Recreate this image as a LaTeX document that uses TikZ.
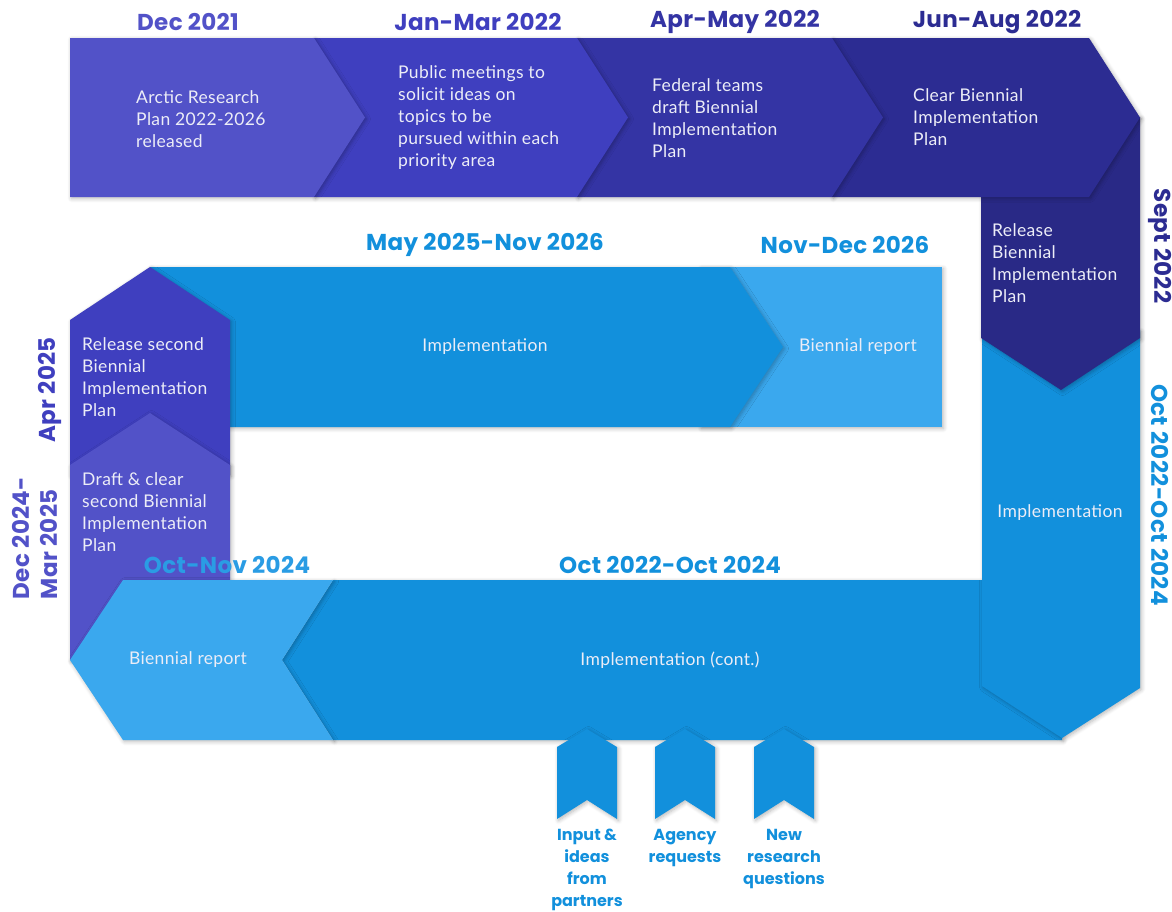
\documentclass[tikz,border=0pt]{standalone}
\usepackage{fontspec}
\setmainfont{Lato}[LetterSpace=2]
\newfontfamily\datefont{Poppins}[LetterSpace=1.5]
\newfontfamily\tabfont{Poppins}
\usetikzlibrary{shadows.blur}
\definecolor{pA}{HTML}{5252C8}
\definecolor{pB}{HTML}{3F3FBF}
\definecolor{pC}{HTML}{3434A4}
\definecolor{pD}{HTML}{2C2C92}
\definecolor{pE}{HTML}{292986}
\definecolor{bA}{HTML}{1290DC}
\definecolor{bL}{HTML}{3AA8EE}
\definecolor{bM}{HTML}{2A9CE4}
\definecolor{txt}{HTML}{ECEDF7}
\tikzset{
  band/.style={fill=#1, draw=none, blur shadow={shadow xshift=1.5pt, shadow yshift=-1.5pt, shadow blur steps=6, shadow blur radius=4pt, shadow opacity=28}},
  body/.style={text=txt, font=\fontsize{17.5}{22}\selectfont, inner sep=0pt},
  bodyl/.style={body, align=left, anchor=west},
  datel/.style={text=#1, font=\datefont\bfseries\fontsize{23}{28}\selectfont, inner sep=0pt},
  tabl/.style={text=bA, font=\tabfont\bfseries\fontsize{16}{22}\selectfont, inner sep=0pt, align=center, anchor=north},
}
\begin{document}
\begin{tikzpicture}[x=1pt,y=-1pt]
\useasboundingbox (0,0) rectangle (1172,911);
% middle row
\fill[band=bL] (700,267) -- (942,267) -- (942,427) -- (700,427) -- cycle;
\fill[band=bA] (150,267) -- (730,267) -- (783,347) -- (730,427) -- (150,427) -- cycle;
% left column
\fill[band=pB] (70,320) -- (150,267) -- (230,320) -- (230,475) -- (70,475) -- cycle;
\fill[band=pA] (70,465) -- (150,413) -- (230,465) -- (230,595) -- (70,660) -- cycle;
% bottom row
\fill[band=bA] (333,580) -- (1062,580) -- (1062,740) -- (333,740) -- (282,660) -- cycle;
\fill[band=bL] (123,580) -- (333,580) -- (282,660) -- (333,740) -- (123,740) -- (70,660) -- cycle;
% tabs
\foreach \xa/\xb in {557/617,655/715,754/814}{
  \fill[band=bA] (\xa,747) -- ({(\xa+\xb)/2},729) -- (\xb,747) -- (\xb,819) -- ({(\xa+\xb)/2},800) -- (\xa,819) -- cycle;
}
% right column
\fill[band=bA] (982,330) -- (1140,330) -- (1140,688) -- (1062,738) -- (982,686) -- cycle;
\fill[band=pE] (981,150) -- (1140,117) -- (1140,338) -- (1061,390) -- (981,338) -- cycle;
% top row
\fill[band=pD] (832,38) -- (1089,38) -- (1140,117.5) -- (1089,197) -- (832,197) -- cycle;
\fill[band=pC] (577,38) -- (832,38) -- (883,117.5) -- (832,197) -- (577,197) -- cycle;
\fill[band=pB] (314,38) -- (577,38) -- (628,117.5) -- (577,197) -- (314,197) -- cycle;
\fill[band=pA] (70,38) -- (314,38) -- (365,117.5) -- (314,197) -- (70,197) -- cycle;

% body texts
\node[bodyl] (t1) at (136,119) {Arctic Research\\Plan 2022-2026\\released};
\node[bodyl] (t2) at (398,118) {Public meetings to\\solicit ideas on\\topics to be\\pursued within each\\priority area};
\node[bodyl] (t3) at (652,118) {Federal teams\\draft Biennial\\Implementation\\Plan};
\node[bodyl] (t4) at (913,117) {Clear Biennial\\Implementation\\Plan};
\node[bodyl] (t5) at (992,263) {Release\\Biennial\\Implementation\\Plan};
\node[body] (t6) at (1060,513) {Implementation};
\node[body] (t7) at (485,347) {Implementation};
\node[body] (t8) at (858,347) {Biennial report};
\node[bodyl] (t9) at (82,377) {Release second\\Biennial\\Implementation\\Plan};
\node[bodyl] (t10) at (82,512) {Draft \& clear\\second Biennial\\Implementation\\Plan};
\node[body] (t11) at (188,660) {Biennial report};
\node[body] (t12) at (670,660) {Implementation (cont.)};

% dates
\node[datel=pA] (d1) at (188,22) {Dec 2021};
\node[datel=pB] (d2) at (478,22) {Jan-Mar 2022};
\node[datel=pC] (d3) at (735,22) {Apr-May 2022};
\node[datel=pD] (d4) at (997,22) {Jun-Aug 2022};
\node[datel=pD, rotate=-90] (d5) at (1160,246) {Sept 2022};
\node[datel=bA, rotate=-90] (d6) at (1160,495) {Oct 2022-Oct 2024};
\node[datel=bA] (d7) at (485,245) {May 2025-Nov 2026};
\node[datel=bA] (d8) at (845,245) {Nov-Dec 2026};
\node[datel=pB, rotate=90] (d9) at (50,390) {Apr 2025};
\node[datel=pA, rotate=90, align=left] (d10) at (35,538) {Dec 2024-\\Mar 2025};
\node[datel=bM] (d11) at (227,565) {Oct-Nov 2024};
\node[datel=bA] (d12) at (670,565) {Oct 2022-Oct 2024};

% tab labels
\node[tabl] (l1) at (587,829) {Input \&\\ideas\\from\\partners};
\node[tabl] (l2) at (685,829) {Agency\\requests};
\node[tabl] (l3) at (784,829) {New\\research\\questions};
\end{tikzpicture}
\end{document}
